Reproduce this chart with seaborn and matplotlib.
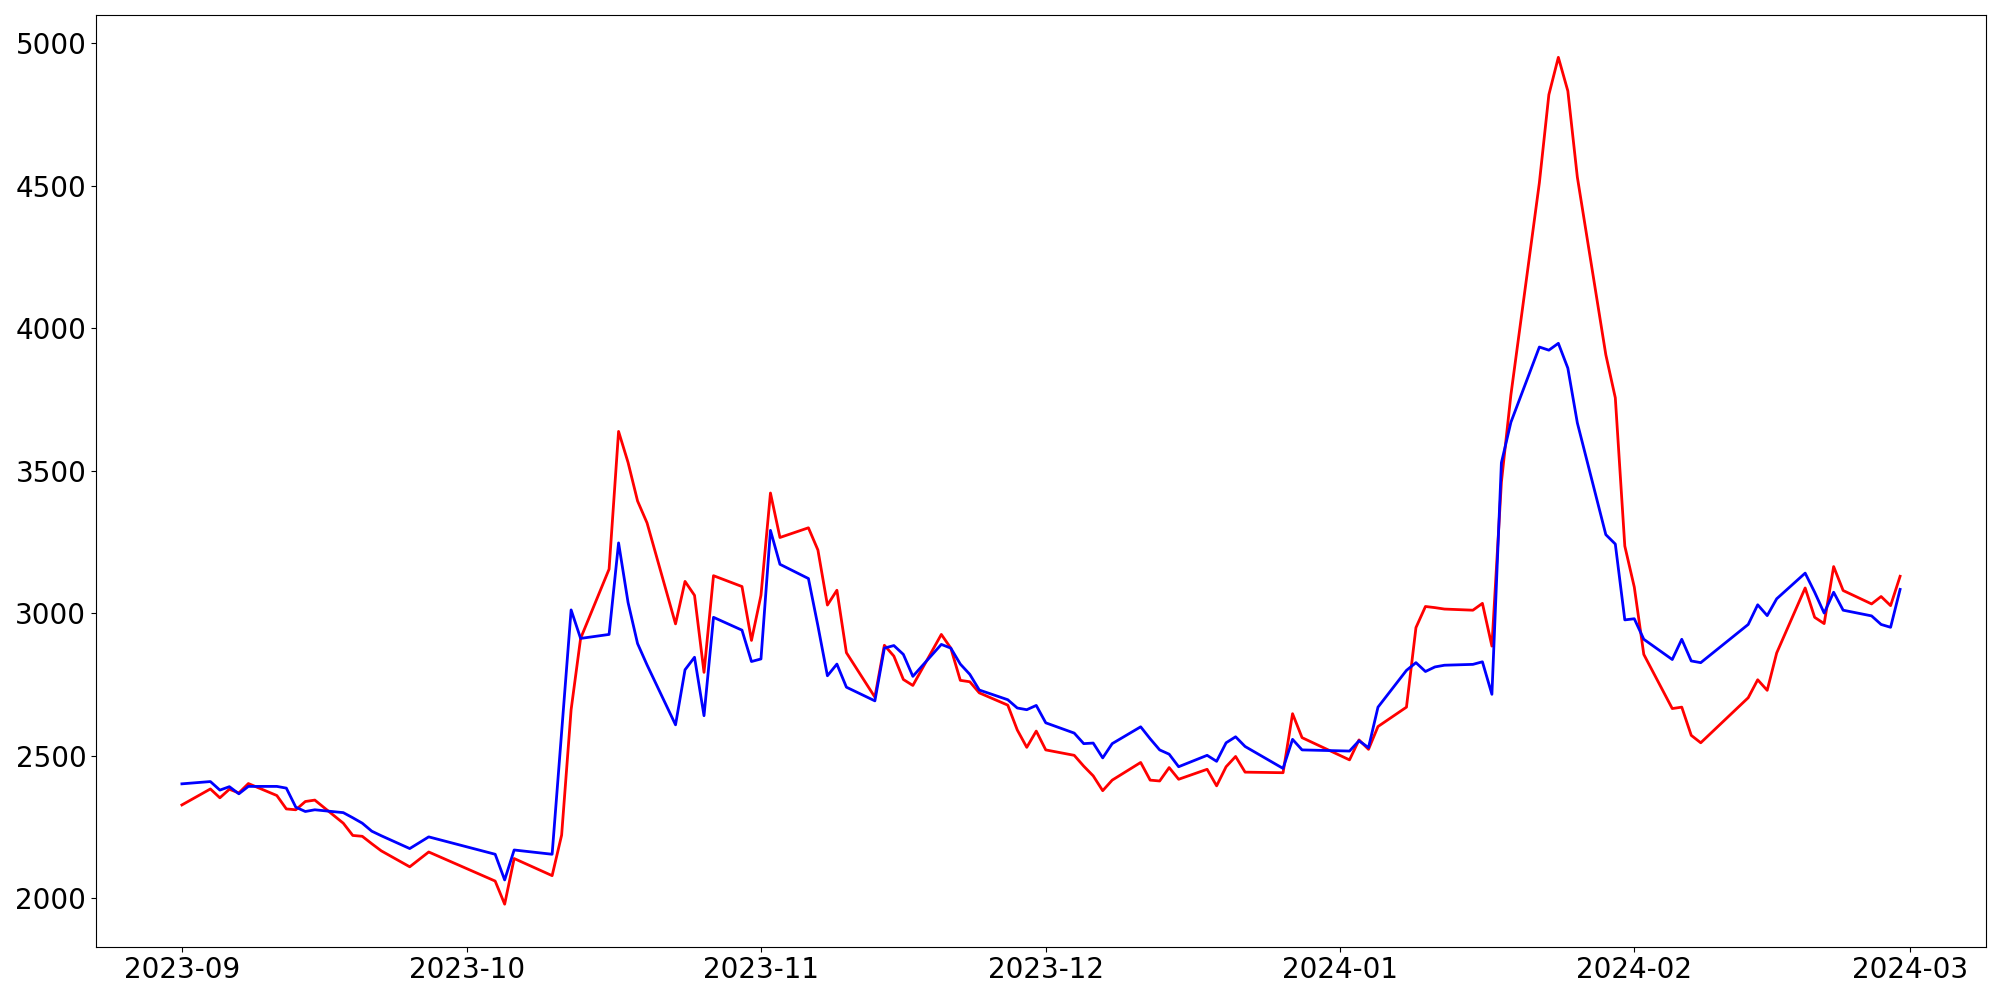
import matplotlib
matplotlib.use('Agg')
import matplotlib.pyplot as plt
import numpy as np
import pandas as pd
import seaborn as sns


dates = ['2023-09-01', '2023-09-04', '2023-09-05', '2023-09-06', '2023-09-07', '2023-09-08',
         '2023-09-11', '2023-09-12', '2023-09-13', '2023-09-14', '2023-09-15',
         '2023-09-18', '2023-09-19', '2023-09-20', '2023-09-21', '2023-09-22',
         '2023-09-25', '2023-09-27',
         '2023-10-04', '2023-10-05', '2023-10-06',
         '2023-10-10', '2023-10-11', '2023-10-12', '2023-10-13',
         '2023-10-16', '2023-10-17', '2023-10-18', '2023-10-19', '2023-10-20',
         '2023-10-23', '2023-10-24', '2023-10-25', '2023-10-26', '2023-10-27',
         '2023-10-30', '2023-10-31', '2023-11-01', '2023-11-02', '2023-11-03',
         '2023-11-06', '2023-11-07', '2023-11-08', '2023-11-09', '2023-11-10',
         '2023-11-13', '2023-11-14', '2023-11-15', '2023-11-16', '2023-11-17',
         '2023-11-20', '2023-11-21', '2023-11-22', '2023-11-23', '2023-11-24',
         '2023-11-27', '2023-11-28', '2023-11-29', '2023-11-30', '2023-12-01',
         '2023-12-04', '2023-12-05', '2023-12-06', '2023-12-07', '2023-12-08',
         '2023-12-11', '2023-12-12', '2023-12-13', '2023-12-14', '2023-12-15',
         '2023-12-18', '2023-12-19', '2023-12-20', '2023-12-21', '2023-12-22',
         '2023-12-26', '2023-12-27', '2023-12-28',
         '2024-01-02', '2024-01-03', '2024-01-04', '2024-01-05',
         '2024-01-08', '2024-01-09', '2024-01-10', '2024-01-11', '2024-01-12',
         '2024-01-15', '2024-01-16', '2024-01-17', '2024-01-18', '2024-01-19',
         '2024-01-22', '2024-01-23', '2024-01-24', '2024-01-25', '2024-01-26',
         '2024-01-29', '2024-01-30', '2024-01-31', '2024-02-01', '2024-02-02',
         '2024-02-05', '2024-02-06', '2024-02-07', '2024-02-08',
         '2024-02-13', '2024-02-14', '2024-02-15', '2024-02-16',
         '2024-02-19', '2024-02-20', '2024-02-21', '2024-02-22', '2024-02-23',
         '2024-02-26', '2024-02-27', '2024-02-28', '2024-02-29']

blue_vals = [2402, 2410, 2380, 2392, 2367, 2393,
             2393, 2387, 2320, 2305, 2311,
             2301, 2283, 2264, 2236, 2220,
             2175, 2216,
             2155, 2065, 2170,
             2155, 2583, 3012, 2912,
             2926, 3247, 3038, 2894, 2819,
             2609, 2802, 2846, 2641, 2986,
             2941, 2831, 2840, 3291, 3172,
             3122, 2956, 2781, 2822, 2741,
             2693, 2878, 2887, 2856, 2779,
             2891, 2878, 2822, 2786, 2731,
             2697, 2668, 2662, 2677, 2616,
             2580, 2543, 2545, 2493, 2543,
             2602, 2560, 2521, 2506, 2462,
             2502, 2481, 2546, 2567, 2533,
             2456, 2558, 2521,
             2517, 2553, 2529, 2671,
             2800, 2827, 2796, 2812, 2818,
             2821, 2830, 2716, 3528, 3670,
             3934, 3923, 3947, 3860, 3668,
             3276, 3243, 2977, 2981, 2909,
             2838, 2909, 2833, 2827,
             2961, 3030, 2992, 3051,
             3141, 3074, 3001, 3074, 3011,
             2991, 2961, 2951, 3084]

red_vals = [2328, 2384, 2353, 2383, 2370, 2403,
            2361, 2314, 2311, 2340, 2345,
            2264, 2221, 2218, 2192, 2167,
            2111, 2163,
            2061, 1980, 2140,
            2080, 2222, 2662, 2912,
            3155, 3638, 3529, 3394, 3317,
            2963, 3112, 3063, 2793, 3132,
            3094, 2905, 3063, 3422, 3266,
            3300, 3222, 3029, 3081, 2862,
            2706, 2888, 2850, 2768, 2747,
            2926, 2878, 2765, 2760, 2721,
            2678, 2591, 2530, 2587, 2521,
            2502, 2464, 2430, 2378, 2415,
            2477, 2415, 2412, 2459, 2418,
            2453, 2395, 2462, 2498, 2443,
            2441, 2648, 2564,
            2486, 2556, 2523, 2603,
            2671, 2950, 3024, 3020, 3015,
            3011, 3035, 2885, 3460, 3766,
            4510, 4819, 4950, 4832, 4530,
            3907, 3756, 3236, 3092, 2856,
            2666, 2671, 2572, 2546,
            2704, 2767, 2730, 2861,
            3089, 2986, 2964, 3164, 3080,
            3033, 3059, 3027, 3130]

df = pd.DataFrame({'date': pd.to_datetime(dates), 'blue': blue_vals, 'red': red_vals})

fig = plt.figure(figsize=(20, 10), dpi=100)
ax = fig.add_subplot(111)
sns.lineplot(data=df, x='date', y='red', color='red', linewidth=2, ax=ax)
sns.lineplot(data=df, x='date', y='blue', color='blue', linewidth=2, ax=ax)

ax.set_xlabel('')
ax.set_ylabel('')
ax.tick_params(axis='both', labelsize=20)
fig.subplots_adjust(left=0.048, right=0.993, top=0.985, bottom=0.0535)

plt.savefig('out.png')
